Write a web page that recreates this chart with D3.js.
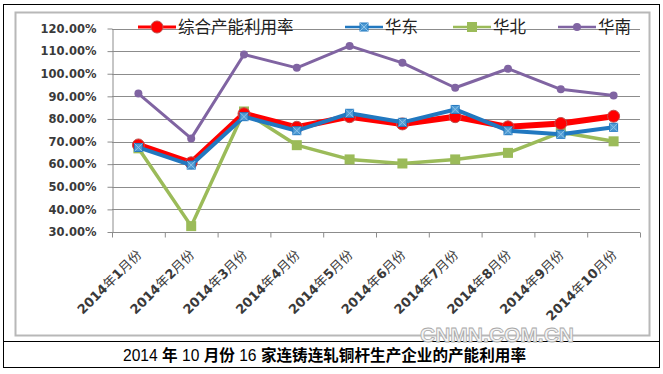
<!DOCTYPE html>
<html>
<head>
<meta charset="utf-8">
<script src="https://cdn.jsdelivr.net/npm/d3@7"></script>
<style>
  body { margin: 0; background: #fff; }
  svg { display: block; }
</style>
</head>
<body>
<svg id="chart" width="663" height="374"></svg>
<script>
// months and utilisation rates (%)
var months = ["2014年1月份", "2014年2月份", "2014年3月份", "2014年4月份", "2014年5月份",
              "2014年6月份", "2014年7月份", "2014年8月份", "2014年9月份", "2014年10月份"]
var total = [68.5, 60.6, 82.3, 76.3, 81.0, 77.8, 81.0, 76.5, 78.0, 81.2]
var east = [67.4, 59.6, 81.0, 74.8, 82.5, 78.5, 84.2, 74.8, 73.2, 76.3]
var north = [67.0, 32.6, 83.3, 68.4, 62.1, 60.3, 62.1, 65.0, 74.1, 70.1]
var south = [91.2, 71.4, 108.5, 102.6, 112.3, 104.8, 93.8, 102.2, 93.1, 90.4]
var yTicks = [30, 40, 50, 60, 70, 80, 90, 100, 110, 120]

var seriesNames = ["综合产能利用率", "华东", "华北", "华南"]
var seriesColors = ["#ff0000", "#2178c0", "#9bbb59", "#8064a2"]
var seriesWidths = [6, 4, 3.5, 3]

var svg = d3.select("#chart")

// frames
svg.append("rect").attr("x", 3.5).attr("y", 4.5).attr("width", 656).attr("height", 363)
   .attr("fill", "none").attr("stroke", "#000").attr("stroke-width", 1)
svg.append("rect").attr("x", 15.5).attr("y", 12.5).attr("width", 634).attr("height", 323)
   .attr("fill", "none").attr("stroke", "#b8b8b8").attr("stroke-width", 2)
svg.append("line").attr("x1", 3).attr("x2", 660).attr("y1", 341.5).attr("y2", 341.5)
   .attr("stroke", "#000")

var x = d3.scaleBand().domain(months).range([112, 640])
var y = d3.scaleLinear().domain([30, 120]).range([232, 28.5])

// grid
svg.append("g").selectAll("line").data(yTicks).enter().append("line")
   .attr("x1", 112).attr("x2", 640)
   .attr("y1", function(d) { return Math.round(y(d)) + 0.5 })
   .attr("y2", function(d) { return Math.round(y(d)) + 0.5 })
   .attr("stroke", "#8c8c8c").attr("stroke-width", 1.2)

// y axis
var yAxis = d3.axisLeft(y).tickValues(yTicks).tickSize(5).tickSizeOuter(0)
  .tickFormat(function(d) { return d.toFixed(2) + "%" })
var gy = svg.append("g").attr("transform", "translate(112.5,0)").call(yAxis)
gy.select(".domain").attr("stroke", "#8c8c8c")
gy.selectAll(".tick line").attr("stroke", "#8c8c8c")
gy.selectAll("text").attr("x", -16)
  .style("font-family", "DejaVu Sans, Verdana, sans-serif").style("font-size", "11.5px")
  .style("font-weight", "bold").attr("fill", "#3a3a3a")

// x axis ticks at category borders
var gx = svg.append("g").attr("transform", "translate(0,232.5)")
gx.append("line").attr("x1", 112).attr("x2", 640).attr("stroke", "#8c8c8c").attr("stroke-width", 1.2)
gx.selectAll(".tk").data(months.concat(["end"])).enter().append("line")
  .attr("x1", function(d, i) { return 112.5 + i * x.bandwidth() })
  .attr("x2", function(d, i) { return 112.5 + i * x.bandwidth() })
  .attr("y1", 0).attr("y2", 5).attr("stroke", "#8c8c8c")
var xl = gx.selectAll("text").data(months).enter().append("text")
  .attr("transform", function(d) {
    return "translate(" + (x(d) + x.bandwidth() / 2 + 4) + ",23) rotate(-45)"
  })
  .attr("text-anchor", "end")
  .style("font-family", "DejaVu Sans, Verdana, sans-serif").style("font-size", "13px")
  .attr("fill", "#3a3a3a")
// digits bold, chinese characters plain (as in the picture)
xl.each(function(d) {
  var t = d3.select(this)
  d.match(/\d+|[^\d]+/g).forEach(function(part) {
    var isNum = /\d/.test(part)
    t.append("tspan").style("font-weight", isNum ? "bold" : "normal")
     .style("font-family", isNum ? "DejaVu Sans, Verdana, sans-serif" : "Noto Sans CJK SC, sans-serif")
     .text(part)
  })
})

// lines
var allSeries = [total, east, north, south]
var cx = function(d, i) { return x(months[i]) + x.bandwidth() / 2 }
var line = d3.line().x(cx).y(function(d) { return y(d) })

function drawMarker(g, k, px, py) {
  var c = seriesColors[k]
  if (k == 0) {
    g.append("circle").attr("cx", px).attr("cy", py).attr("r", 6)
     .attr("fill", "#ff0000").attr("stroke", "#c0504d").attr("stroke-width", 1)
  } else if (k == 1) {
    g.append("rect").attr("x", px - 4).attr("y", py - 4).attr("width", 8).attr("height", 8)
     .attr("fill", "#4f9bd3").attr("stroke", c)
    g.append("path").attr("d", "M" + (px - 4) + "," + (py - 4) + "L" + (px + 4) + "," + (py + 4) +
      "M" + (px + 4) + "," + (py - 4) + "L" + (px - 4) + "," + (py + 4))
     .attr("stroke", "#8fc3ea").attr("stroke-width", 1)
  } else if (k == 2) {
    g.append("rect").attr("x", px - 5).attr("y", py - 5).attr("width", 10).attr("height", 10)
     .attr("fill", c)
  } else {
    g.append("circle").attr("cx", px).attr("cy", py).attr("r", 4).attr("fill", c)
  }
}

// draw in back-to-front order: south, north, total, east
var order = [3, 2, 0, 1]
order.forEach(function(k) {
  var g = svg.append("g")
  g.append("path").datum(allSeries[k]).attr("d", line)
   .attr("fill", "none").attr("stroke", seriesColors[k])
   .attr("stroke-width", seriesWidths[k]).attr("stroke-linejoin", "round")
  allSeries[k].forEach(function(v, i) { drawMarker(g, k, cx(v, i), y(v)) })
})

// legend
var legX = [138, 345, 453, 558]
var lg = svg.append("g")
seriesNames.forEach(function(name, k) {
  var lx = legX[k], ly = 27
  lg.append("line").attr("x1", lx).attr("x2", lx + 38).attr("y1", ly).attr("y2", ly)
    .attr("stroke", seriesColors[k]).attr("stroke-width", k == 0 ? 3 : 2.5)
  drawMarker(lg, k, lx + 19, ly)
  lg.append("text").attr("x", lx + 40).attr("y", ly + 6)
    .style("font-family", "Noto Sans CJK SC, sans-serif").style("font-size", "16.5px")
    .attr("fill", "#222").text(name)
})

// watermark
svg.append("text").attr("x", 497).attr("y", 342)
  .attr("text-anchor", "middle")
  .style("font-family", "Liberation Sans, Arial, sans-serif").style("font-size", "21px")
  .style("font-weight", "bold").attr("fill", "#f4f4f4").attr("stroke", "#a8a8a8").attr("stroke-width", 0.8)
  .text("CNMN.COM.CN")

// caption: digits regular, chinese bold
var caption = [["2014 ", false], ["年", true], [" 10 ", false], ["月份", true], [" 16 ", false],
               ["家连铸连轧铜杆生产企业的产能利用率", true]]
var ct = svg.append("text").attr("x", 123).attr("y", 361)
  .style("font-family", "Noto Sans CJK SC, sans-serif").style("font-size", "15.6px").attr("fill", "#000")
caption.forEach(function(p) {
  ct.append("tspan").style("font-weight", p[1] ? "bold" : "normal")
    .style("font-family", p[1] ? "Noto Sans CJK SC, sans-serif" : "Liberation Sans, Arial, sans-serif")
    .text(p[0])
})
</script>
</body>
</html>
